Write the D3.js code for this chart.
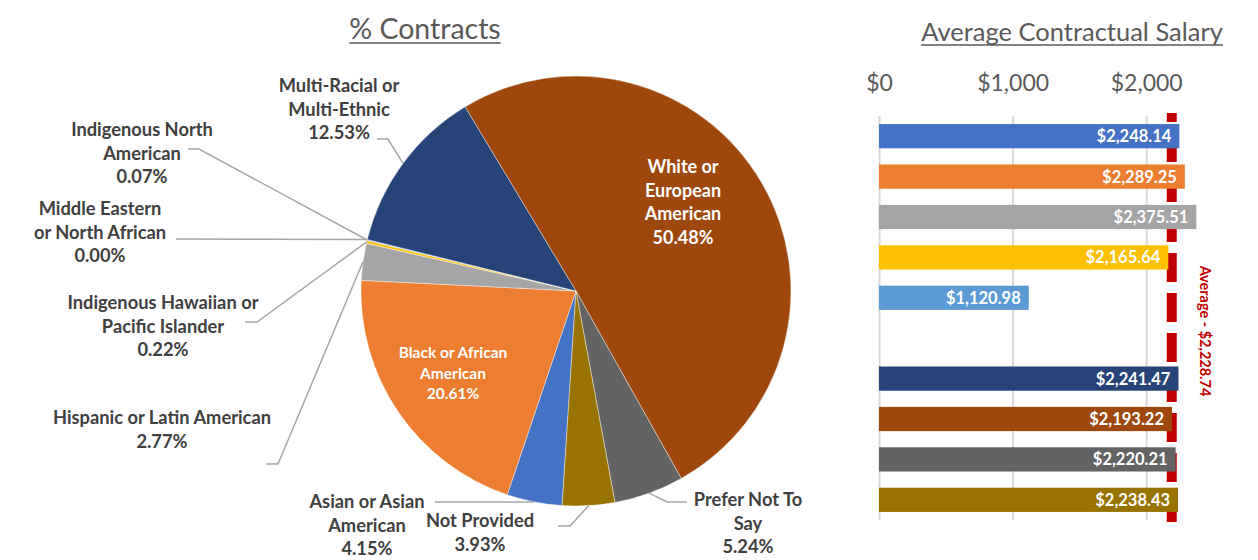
<!DOCTYPE html>
<html>
<head>
<meta charset="utf-8">
<script src="https://cdn.jsdelivr.net/npm/d3@7"></script>
<style>
  body { margin: 0; background: #fff; }
  text { font-family: Lato, 'Noto Sans', sans-serif; }
</style>
</head>
<body>
<script>
const width = 1258
const height = 560

// data
const categories = [
	'Asian or Asian American',
	'Black or African American',
	'Hispanic or Latin American',
	'Indigenous Hawaiian or Pacific Islander',
	'Indigenous North American',
	'Middle Eastern or North African',
	'Multi-Racial or Multi-Ethnic',
	'White or European American',
	'Prefer Not To Say',
	'Not Provided'
]
const contractShare = [4.15, 20.61, 2.77, 0.22, 0.07, 0.00, 12.53, 50.48, 5.24, 3.93]
const avgSalary = [2248.14, 2289.25, 2375.51, 2165.64, 1120.98, null, 2241.47, 2193.22, 2220.21, 2238.43]
const overallAverage = 2228.74
const salaryTicks = [0, 1000, 2000]
const colors = ['#4472C4', '#ED7D31', '#A5A5A5', '#FFC000', '#5B9BD5', '#70AD47', '#264478', '#9E480E', '#636363', '#997300']

// label layout for the pie (text lines, anchor, leader elbow + end)
const pieLabels = {
	'Asian or Asian American': { lines: ['Asian or Asian', 'American', '4.15%'], x: 367, y: 508, leader: [[435, 502]] },
	'Black or African American': { lines: ['Black or African', 'American', '20.61%'], x: 453, y: 358, inside: true, size: 15.5, lh: 20.5 },
	'Hispanic or Latin American': { lines: ['Hispanic or Latin American', '2.77%'], x: 162, y: 424, leader: [[278, 464], [266, 464]] },
	'Indigenous Hawaiian or Pacific Islander': { lines: ['Indigenous Hawaiian or', 'Pacific Islander', '0.22%'], x: 163, y: 309, leader: [[257, 322], [245, 322]] },
	'Indigenous North American': { lines: ['Indigenous North', 'American', '0.07%'], x: 142, y: 136, leader: [[199, 149], [188, 149]] },
	'Middle Eastern or North African': { lines: ['Middle Eastern', 'or North African', '0.00%'], x: 100, y: 215, leader: [[176, 239]] },
	'Multi-Racial or Multi-Ethnic': { lines: ['Multi-Racial or', 'Multi-Ethnic', '12.53%'], x: 339, y: 92, leader: [[388, 139], [377, 139]] },
	'White or European American': { lines: ['White or', 'European', 'American', '50.48%'], x: 683, y: 173, inside: true, size: 18, lh: 23.7 },
	'Prefer Not To Say': { lines: ['Prefer Not To', 'Say', '5.24%'], x: 748, y: 506, leader: [[667, 502], [687, 502]] },
	'Not Provided': { lines: ['Not Provided', '3.93%'], x: 480, y: 527, leader: [[570, 526], [558, 526]] }
}

const data = categories.map((c, i) => ({ cat: c, share: contractShare[i], salary: avgSalary[i], color: colors[i] }))

const svg = d3.select('body')
	.append('svg')
	.attr('width', width)
	.attr('height', height)

const addTitle = (x, y, label, size) => {
	const t = svg.append('text')
		.attr('x', x)
		.attr('y', y)
		.attr('text-anchor', 'middle')
		.attr('fill', '#595959')
		.style('font-size', size + 'px')
		.text(label)
	const w = t.node().getComputedTextLength()
	svg.append('line')
		.attr('x1', x - w / 2).attr('x2', x + w / 2)
		.attr('y1', y + 4).attr('y2', y + 4)
		.attr('stroke', '#595959')
		.attr('stroke-width', 1.5)
}

// ---- pie ----
const cx = 576
const cy = 291
const radius = 215
const start = 183.7 * Math.PI / 180

const pie = d3.pie()
	.sort(null)
	.value(d => d.share)
	.startAngle(start)
	.endAngle(start + 2 * Math.PI)

const arc = d3.arc().innerRadius(0).outerRadius(radius)

const pg = svg.append('g').attr('transform', `translate(${cx},${cy})`)
const arcs = pie(data)

pg.selectAll('path')
	.data(arcs)
	.enter()
	.append('path')
	.attr('d', arc)
	.attr('fill', d => d.data.color)
	.attr('stroke', '#fff')
	.attr('stroke-width', 0.4)

addTitle(425, 39, '% Contracts', 28.5)

arcs.forEach(a => {
	const lab = pieLabels[a.data.cat]
	const size = lab.size || 18.3
	const lh = lab.lh || 23.5
	if (!lab.inside) {
		const mid = (a.startAngle + a.endAngle) / 2
		const p0 = [cx + radius * Math.sin(mid), cy - radius * Math.cos(mid)]
		const pts = [p0, ...lab.leader]
		svg.append('path')
			.attr('d', d3.line()(pts))
			.attr('fill', 'none')
			.attr('stroke', '#a6a6a6')
			.attr('stroke-width', 1.5)
	}
	const t = svg.append('text')
		.attr('text-anchor', 'middle')
		.attr('fill', lab.inside ? '#fff' : '#404040')
		.style('font-size', size + 'px')
		.style('font-weight', 700)
	lab.lines.forEach((l, i) => {
		t.append('tspan')
			.attr('x', lab.x)
			.attr('y', lab.y + i * lh)
			.text(l)
	})
})

// ---- bars ----
const xScale = d3.scaleLinear()
	.domain([0, 2000])
	.range([879, 1146.2])

const yScale = d3.scaleBand()
	.domain(categories)
	.range([116, 520])
	.paddingInner(0.4)
	.paddingOuter(0.2)

addTitle(1072, 41, 'Average Contractual Salary', 25.5)

const xAxis = d3.axisTop(xScale)
	.tickValues(salaryTicks)
	.tickSize(-(520 - 116))
	.tickPadding(25)
	.tickFormat(d => '$' + d3.format(',')(d))

const ax = svg.append('g')
	.attr('transform', 'translate(0,116)')
	.call(xAxis)
ax.select('.domain').remove()
ax.selectAll('line').attr('stroke', '#d9d9d9').attr('stroke-width', 2)
ax.selectAll('text')
	.attr('fill', '#595959')
	.style('font-size', '23px')
	.style('font-family', 'Lato, sans-serif')

// average line (behind bars)
const avgX = xScale(overallAverage) - 5
svg.append('line')
	.attr('x1', avgX).attr('x2', avgX)
	.attr('y1', 113).attr('y2', 522)
	.attr('stroke', '#C00000')
	.attr('stroke-width', 10)
	.attr('stroke-dasharray', '29 11')
	.attr('stroke-dashoffset', 20)

const bars = data.filter(d => d.salary != null)

svg.selectAll('rect.bar')
	.data(bars)
	.enter()
	.append('rect')
	.attr('class', 'bar')
	.attr('x', xScale(0))
	.attr('y', d => yScale(d.cat))
	.attr('width', d => xScale(d.salary) - xScale(0))
	.attr('height', yScale.bandwidth())
	.attr('fill', d => d.color)

svg.selectAll('text.val')
	.data(bars)
	.enter()
	.append('text')
	.attr('class', 'val')
	.attr('x', d => xScale(d.salary) - 8)
	.attr('y', d => yScale(d.cat) + yScale.bandwidth() / 2)
	.attr('dy', '0.36em')
	.attr('text-anchor', 'end')
	.attr('fill', '#fff')
	.style('font-size', '16.5px')
	.style('font-weight', 700)
	.text(d => '$' + d3.format(',.2f')(d.salary))

svg.append('text')
	.attr('transform', `translate(1200,331) rotate(90)`)
	.attr('text-anchor', 'middle')
	.attr('fill', '#C00000')
	.style('font-size', '14.5px')
	.style('font-weight', 700)
	.text('Average - $' + d3.format(',.2f')(overallAverage))
</script>
</body>
</html>
